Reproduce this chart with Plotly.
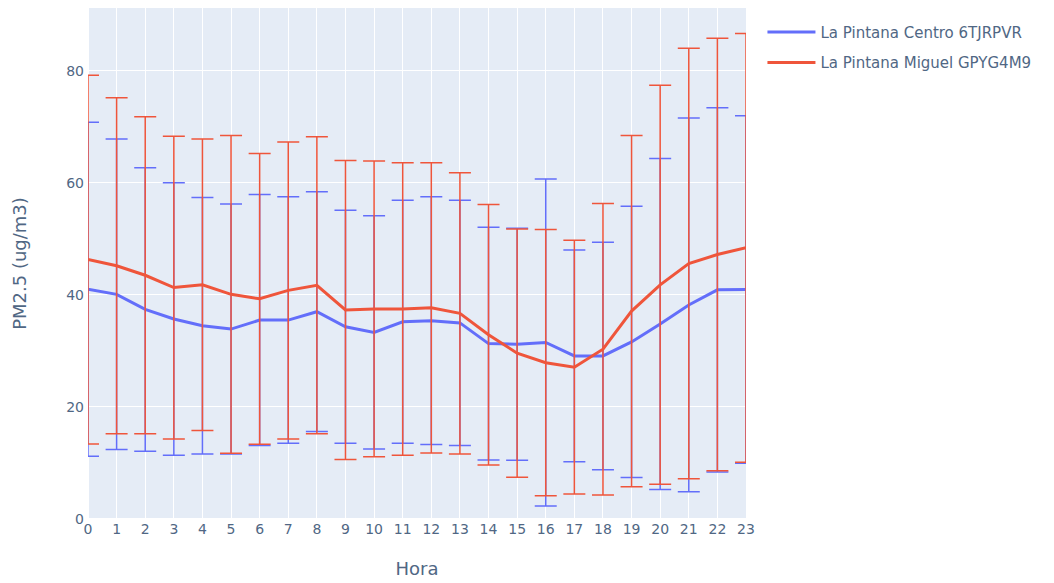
import plotly.graph_objects as go

hours = list(range(24))
tick_labels = [str(h) for h in hours]

centro_name = "La Pintana Centro 6TJRPVR"
centro_mean = [41.0, 40.1, 37.4, 35.7, 34.5, 33.9, 35.5, 35.5, 37.0, 34.3, 33.3, 35.2,
               35.4, 35.0, 31.3, 31.2, 31.5, 29.1, 29.1, 31.6, 34.8, 38.2, 40.9, 40.95]
centro_std = [29.8, 27.7, 25.3, 24.3, 22.9, 22.3, 22.4, 22.0, 21.4, 20.8, 20.8, 21.7,
              22.1, 21.9, 20.75, 20.7, 29.2, 18.9, 20.3, 24.2, 29.55, 33.35, 32.5, 31.0]

miguel_name = "La Pintana Miguel GPYG4M9"
miguel_mean = [46.3, 45.2, 43.5, 41.3, 41.8, 40.1, 39.3, 40.8, 41.7, 37.3, 37.5, 37.5,
               37.7, 36.7, 32.9, 29.6, 27.9, 27.1, 30.3, 37.1, 41.8, 45.6, 47.2, 48.4]
miguel_std = [32.9, 30.0, 28.3, 27.0, 26.0, 28.35, 25.95, 26.5, 26.5, 26.7, 26.4, 26.1,
              25.9, 25.1, 23.25, 22.15, 23.75, 22.65, 26.0, 31.35, 35.6, 38.4, 38.6, 38.25]

FONT = "Verdana, DejaVu Sans, sans-serif"

fig = go.Figure()
fig.add_trace(go.Scatter(
    x=hours, y=centro_mean, name=centro_name, mode="lines", legendgroup="centro",
    line=dict(color="#636efa", width=3),
    error_y=dict(type="data", array=centro_std, symmetric=True,
                 color="#636efa", thickness=1.5, width=11),
))
fig.add_trace(go.Scatter(
    x=hours, y=miguel_mean, name=miguel_name, mode="lines", legendgroup="miguel",
    line=dict(color="#EF553B", width=3),
    error_y=dict(type="data", array=miguel_std, symmetric=True,
                 color="#EF553B", thickness=1.5, width=11),
))

fig.update_layout(
    template="plotly",
    width=1054, height=583,
    margin=dict(l=80, r=316, t=0, b=72),
    font=dict(family=FONT, size=14, color="#506784"),
    legend=dict(x=1.025, y=0.985, font=dict(family=FONT, size=15), itemwidth=48,
                tracegroupgap=8),
    xaxis=dict(title=dict(text="Hora", font=dict(family=FONT, size=18), standoff=26),
               range=[0, 23], tickmode="array", tickvals=hours, ticktext=tick_labels),
    yaxis=dict(title=dict(text="PM2.5 (ug/m3)", font=dict(family=FONT, size=18), standoff=34),
               range=[0, 91.2], dtick=20, ticklabelstandoff=3),
)

fig.write_html("out.html")
